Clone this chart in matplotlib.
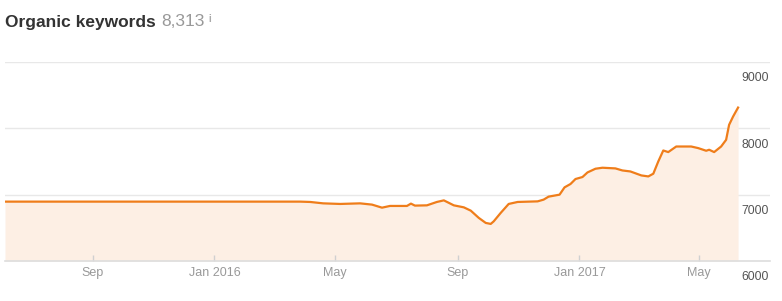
import numpy as np
import pandas as pd
import matplotlib
matplotlib.use("Agg")
import matplotlib.pyplot as plt
import matplotlib.transforms as mtransforms

plt.rcParams['font.family'] = ['Liberation Sans', 'DejaVu Sans']

# Organic keywords
dates = ["2015-06-05", "2016-03-27", "2016-04-06", "2016-04-19", "2016-05-06",
         "2016-05-26", "2016-06-07", "2016-06-17", "2016-06-25", "2016-07-12",
         "2016-07-16", "2016-07-20", "2016-08-01", "2016-08-11", "2016-08-18",
         "2016-08-28", "2016-09-07", "2016-09-14", "2016-09-22", "2016-09-29",
         "2016-10-04", "2016-10-07", "2016-10-14", "2016-10-22", "2016-10-31",
         "2016-11-20", "2016-11-26", "2016-12-01", "2016-12-12", "2016-12-17",
         "2016-12-23", "2016-12-28", "2017-01-04", "2017-01-09", "2017-01-17",
         "2017-01-24", "2017-02-06", "2017-02-13", "2017-02-21", "2017-03-04",
         "2017-03-11", "2017-03-16", "2017-03-21", "2017-03-26", "2017-03-31",
         "2017-04-08", "2017-04-23", "2017-04-30", "2017-05-08", "2017-05-11",
         "2017-05-16", "2017-05-23", "2017-05-28", "2017-05-31", "2017-06-04",
         "2017-06-09"]
keywords = [6895, 6895, 6890, 6869, 6860,
            6869, 6850, 6804, 6830, 6830,
            6865, 6835, 6839, 6890, 6914,
            6839, 6809, 6759, 6650, 6574,
            6559, 6598, 6725, 6860, 6890,
            6899, 6925, 6970, 7000, 7110,
            7161, 7236, 7266, 7335, 7391,
            7406, 7396, 7365, 7350, 7290,
            7275, 7316, 7501, 7666, 7642,
            7726, 7726, 7702, 7662, 7677,
            7642, 7726, 7827, 8053, 8178,
            8313]

tick_dates = ["2015-09-01", "2016-01-01", "2016-05-01", "2016-09-01", "2017-01-01", "2017-05-01"]
tick_labels = ["Sep", "Jan 2016", "May", "Sep", "Jan 2017", "May"]
y_levels = [6000, 7000, 8000, 9000]

x = pd.to_datetime(dates)
W, H = 782, 301
fig = plt.figure(figsize=(W / 100, H / 100), dpi=100)
ax = fig.add_axes([5 / W, (H - 261) / H, 765 / W, 199 / H])

line_color = '#ef7d1a'
ax.fill_between(x, 6000, keywords, color='#fdefe4', lw=0)
ax.plot(x, keywords, color=line_color, lw=1.6, solid_joinstyle='round')

ax.set_xlim(pd.Timestamp("2015-06-05"), pd.Timestamp("2017-07-11"))
ax.set_ylim(6000, 9000)

for lev in y_levels[1:]:
    ax.axhline(lev, color='#e8e8e8', lw=1, zorder=0)

for s in ['top', 'left', 'right']:
    ax.spines[s].set_visible(False)
ax.spines['bottom'].set_color('#dddddd')
ax.spines['bottom'].set_linewidth(1.2)

ax.set_yticks([])
ax.set_xticks(pd.to_datetime(tick_dates))
ax.set_xticklabels(tick_labels, fontsize=9, color='#999999')
ax.tick_params(axis='x', direction='in', length=4.5, width=1, color='#d0d0d0', pad=4)

# value labels on the right, sitting under each grid line
trans = mtransforms.blended_transform_factory(ax.transAxes, ax.transData)
for lev in y_levels:
    ax.annotate(str(lev), xy=(1, lev), xycoords=trans, xytext=(-1, -7.5),
                textcoords='offset points', ha='right', va='top',
                fontsize=8.8, color='#555555', annotation_clip=False)

fig.text(5 / W, 1 - 22 / H, "Organic keywords", fontsize=12.5, fontweight='bold',
         color='#333333', va='center', ha='left')
fig.text(161 / W, 1 - 22 / H, "8,313", fontsize=12.5, color='#999999',
         va='center', ha='left')
fig.text(208 / W, 1 - 19 / H, "i", fontsize=7, fontweight='bold', color='#aaaaaa',
         va='center', ha='left')

fig.savefig("out.png", dpi=100)
